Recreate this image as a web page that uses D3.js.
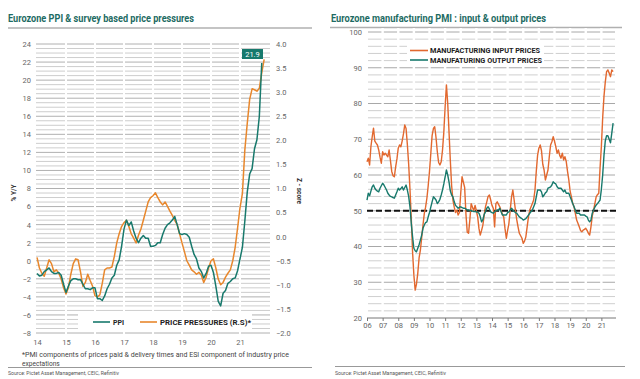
<!DOCTYPE html>
<html>
<head>
<meta charset="utf-8">
<script src="https://cdn.jsdelivr.net/npm/d3@7/dist/d3.min.js"></script>
<style>
    body { margin: 0; background: #fff; }
    svg { display: block; font-family: Roboto, "Liberation Sans", Arial, sans-serif; }
</style>
</head>
<body>
<svg id="chart" width="640" height="379"></svg>
<script>
// left chart: monthly from Jan 2014
var leftYears = ['14', '15', '16', '17', '18', '19', '20', '21'];
var leftTicks = [-8, -6, -4, -2, 0, 2, 4, 6, 8, 10, 12, 14, 16, 18, 20, 22, 24];
var zTicks = ['-2.0', '-1.5', '-1.0', '-0.5', '0.0', '0.5', '1.0', '1.5', '2.0', '2.5', '3.0', '3.5', '4.0'];

var ppi = [
    -1.4, -1.7, -1.6, -1.2, -1.0, -0.8, -1.2, -1.4, -1.4, -1.3, -1.6, -2.6,
    -3.5, -2.8, -2.2, -2.0, -2.0, -2.1, -2.1, -2.6, -3.1, -3.1, -3.2, -3.0,
    -3.0, -4.2, -4.2, -4.4, -3.9, -3.1, -2.6, -1.9, -1.6, -0.5, 0.1, 1.6,
    3.5, 4.5, 3.9, 4.3, 3.3, 2.5, 2.0, 2.5, 2.8, 2.5, 2.5, 1.6,
    1.6, 1.7, 2.0, 2.0, 2.9, 3.6, 4.0, 4.2, 4.5, 4.9, 4.0, 3.0,
    2.9, 3.0, 2.9, 2.6, 1.6, 0.7, 0.2, -0.8, -1.2, -1.9, -1.4, -0.6,
    -0.5, -1.3, -2.8, -4.5, -5.0, -3.6, -3.3, -2.5, -2.3, -2.0, -1.9, -1.1,
    0.2, 1.5, 4.4, 7.6, 9.6, 10.2, 12.4, 13.4, 16.0, 21.9
];

// z-score, right scale
var pricePressures = [
    -0.43, -0.65, -0.76, -0.82, -0.65, -0.48, -0.56, -0.73, -0.69, -0.76, -0.88, -1.06,
    -1.19, -1.06, -0.78, -0.56, -0.46, -0.48, -0.73, -1.03, -0.95, -0.78, -0.91, -1.03,
    -1.23, -1.25, -1.21, -0.97, -0.69, -0.65, -0.65, -0.63, -0.41, -0.13, 0.06, 0.21,
    0.29, 0.34, 0.21, 0.06, -0.03, -0.13, 0.03, 0.16, 0.34, 0.53, 0.72, 0.81,
    0.85, 0.91, 0.81, 0.72, 0.66, 0.72, 0.63, 0.53, 0.44, 0.34, 0.25, 0.06,
    -0.13, -0.31, -0.50, -0.59, -0.69, -0.73, -0.78, -0.74, -0.80, -0.95, -0.84, -0.65,
    -0.50, -0.46, -0.65, -0.88, -1.00, -0.95, -0.84, -0.76, -0.69, -0.50, -0.22, 0.18,
    0.60, 0.90, 1.80, 2.35, 2.85, 3.07, 3.05, 3.02, 3.08, 3.40, 3.68
];

// right chart: monthly from Jan 2006
var rightYears = ['06', '07', '08', '09', '10', '11', '12', '13', '14', '15', '16', '17', '18', '19', '20', '21'];
var pmiTicks = [20, 30, 40, 50, 60, 70, 80, 90, 100];

var inputPrices = [
    63.7, 64.7, 62.8, 67.9, 70.7, 73.1, 69.5, 68.9, 68.4, 67.0, 65.0, 63.3,
    66.5, 65.6, 66.1, 65.6, 65.1, 67.0, 64.0, 61.0, 59.8, 59.5, 62.3, 64.5,
    67.5, 68.4, 67.9, 69.5, 71.5, 74.0, 73.0, 68.5, 63.0, 56.0, 48.0, 38.5,
    32.0, 27.8, 29.5, 32.5, 36.8, 39.0, 42.5, 46.0, 49.2, 51.0, 53.5, 57.0,
    61.0, 66.0, 71.0, 73.0, 73.5, 70.5, 66.5, 63.5, 62.8, 63.7, 67.0, 72.0,
    79.0, 85.2, 80.0, 72.0, 64.0, 57.0, 53.0, 51.0, 49.5, 50.2, 48.8, 49.5,
    55.0, 59.5, 58.0, 56.5, 49.0, 44.0, 43.7, 47.5, 52.0, 51.0, 50.0, 51.5,
    50.0, 48.3, 45.0, 43.2, 44.5, 46.0, 48.8, 51.1, 52.5, 54.0, 54.4, 53.0,
    51.5, 50.7, 45.5, 52.0, 52.5, 51.8, 51.1, 50.0, 49.0, 48.3, 45.0, 42.3,
    44.5, 46.5, 50.2, 53.9, 55.8, 53.0, 50.2, 47.5, 45.5, 43.7, 43.0, 42.3,
    40.9, 41.5, 42.7, 45.5, 48.3, 50.2, 51.1, 52.0, 53.0, 55.8, 61.0, 65.5,
    67.5, 68.4, 66.8, 63.0, 61.4, 58.6, 60.0, 61.4, 65.1, 68.4, 69.3, 70.7,
    69.5, 67.9, 66.1, 67.0, 65.5, 64.7, 66.1, 64.2, 65.1, 63.8, 61.0, 58.6,
    55.5, 53.9, 52.0, 51.1, 49.3, 47.4, 46.5, 45.5, 44.5, 44.1, 44.6, 44.8,
    45.1, 44.5, 43.7, 43.2, 45.5, 48.5, 50.2, 52.0, 53.9, 54.5, 54.9, 62.0,
    68.0, 76.0, 82.0, 86.0, 88.9, 89.4, 88.5, 87.5, 89.4, 88.9
];

var outputPrices = [
    53.0, 54.9, 54.2, 55.5, 56.7, 57.2, 56.3, 55.8, 55.5, 55.3, 56.3, 57.0,
    57.7, 57.2, 56.5, 55.8, 54.9, 54.4, 54.0, 53.9, 53.7, 53.5, 54.4, 55.3,
    56.3, 55.8, 56.2, 56.7, 55.8, 56.5, 57.2, 55.8, 54.0, 51.1, 46.5, 42.7,
    39.5, 38.8, 38.5, 39.5, 40.5, 41.8, 43.2, 45.1, 46.0, 46.7, 46.9, 48.3,
    49.5, 51.0, 52.5, 53.9, 53.5, 53.0, 52.0, 52.5, 53.2, 54.4, 55.8, 57.5,
    59.5, 61.4, 60.0, 58.0, 55.5, 54.4, 53.9, 52.5, 51.5, 51.1, 50.7, 51.0,
    51.1, 50.9, 50.7, 50.7, 50.5, 50.2, 50.2, 50.1, 50.0, 49.9, 49.8, 49.8,
    49.7, 49.6, 49.3, 48.3, 46.9, 47.5, 49.0, 49.7, 50.7, 51.1, 50.5, 49.7,
    49.5, 49.3, 49.7, 50.0, 50.2, 50.2, 50.7, 49.7, 48.8, 48.8, 48.8, 48.8,
    49.5, 49.7, 50.2, 50.7, 50.2, 49.8, 49.5, 49.3, 48.8, 48.3, 48.0, 47.8,
    47.4, 47.6, 47.8, 48.3, 48.8, 49.3, 49.8, 50.2, 51.1, 52.0, 53.9, 55.8,
    55.8, 55.8, 55.3, 53.9, 54.4, 55.0, 55.3, 56.3, 56.5, 56.7, 57.2, 58.1,
    57.7, 57.5, 56.7, 56.3, 56.3, 56.3, 55.8, 55.3, 55.8, 54.9, 54.9, 54.9,
    53.9, 53.0, 52.0, 51.1, 50.2, 49.3, 49.3, 49.3, 48.8, 48.8, 48.8, 48.8,
    48.5, 48.3, 47.4, 46.9, 47.4, 49.3, 50.2, 51.0, 51.6, 52.0, 52.5, 53.0,
    56.0, 60.0, 65.5, 69.5, 71.0, 71.0, 70.0, 69.0, 71.7, 74.5
];

var TEAL = '#17796c';
var ORANGE_L = '#e8872c';
var ORANGE_R = '#e2682f';
var TITLE = '#1d6b63';

var svg = d3.select('#chart');

function monthX(start) {
    return function(d, i) { return start + i / 12; };
}

// ---------- left chart ----------
(function() {
    var x = d3.scaleLinear().domain([2014, 2022]).range([37, 269]);
    var y = d3.scaleLinear().domain([-8, 24]).range([333, 44]);
    var yz = d3.scaleLinear().domain([-2, 4]).range([333, 44]);
    var g = svg.append('g');

    g.append('text')
        .attr('x', 8).attr('y', 22)
        .attr('font-size', 10).attr('font-weight', 'bold')
        .attr('fill', TITLE)
        .attr('textLength', 186).attr('lengthAdjust', 'spacingAndGlyphs')
        .text('Eurozone PPI & survey based price pressures');

    g.append('line')
        .attr('x1', 8).attr('x2', 312).attr('y1', 28).attr('y2', 28)
        .attr('stroke', '#b0b0b0').attr('stroke-width', 1.5);

    // gridlines every 0.5, darker every 2
    var grid = d3.range(-8, 24.01, 0.5);
    g.append('g').selectAll('line')
        .data(grid)
        .join('line')
        .attr('x1', 36).attr('x2', 270)
        .attr('y1', function(d) { return y(d); })
        .attr('y2', function(d) { return y(d); })
        .attr('stroke', function(d) { return d % 2 === 0 ? '#b0b0b0' : '#cdcdcd'; })
        .attr('stroke-width', 1);

    g.append('g').selectAll('rect')
        .data(d3.range(2015, 2022))
        .join('rect')
        .attr('x', function(d) { return x(d) - 1; })
        .attr('y', 40).attr('width', 2).attr('height', 296)
        .attr('fill', '#fff');

    g.append('g')
        .attr('transform', 'translate(31,0)')
        .call(d3.axisLeft(y).tickValues(leftTicks).tickSize(0).tickPadding(0))
        .call(function(s) { s.select('.domain').remove(); })
        .selectAll('text')
        .attr('font-size', 7.5).attr('fill', '#666')
        .attr('font-family', 'Roboto, "Liberation Sans", Arial, sans-serif');

    g.append('g')
        .attr('transform', 'translate(276,0)')
        .call(d3.axisRight(yz).tickValues(zTicks.map(Number)).tickFormat(d3.format('.1f')).tickSize(0).tickPadding(0))
        .call(function(s) { s.select('.domain').remove(); })
        .selectAll('text')
        .attr('font-size', 7.5).attr('fill', '#666')
        .attr('font-family', 'Roboto, "Liberation Sans", Arial, sans-serif');

    g.append('g')
        .attr('transform', 'translate(0,340)')
        .call(d3.axisBottom(x).tickValues(d3.range(2014, 2022)).tickFormat(function(d, i) { return leftYears[i]; }).tickSize(0).tickPadding(0))
        .call(function(s) { s.select('.domain').remove(); })
        .selectAll('text')
        .attr('font-size', 7.5).attr('fill', '#666')
        .attr('font-family', 'Roboto, "Liberation Sans", Arial, sans-serif');

    g.append('text')
        .attr('transform', 'translate(16,193) rotate(-90)')
        .attr('text-anchor', 'middle')
        .attr('font-size', 6.5).attr('font-weight', 'bold').attr('fill', '#333')
        .text('% Y/Y');

    g.append('text')
        .attr('transform', 'translate(297,191) rotate(90)')
        .attr('text-anchor', 'middle')
        .attr('font-size', 6.5).attr('font-weight', 'bold').attr('fill', '#333')
        .text('Z - score');

    // legend box
    g.append('rect')
        .attr('x', 78).attr('y', 314).attr('width', 174).attr('height', 16)
        .attr('fill', '#fff');
    g.append('line')
        .attr('x1', 93).attr('x2', 110).attr('y1', 322).attr('y2', 322)
        .attr('stroke', TEAL).attr('stroke-width', 1.6);
    g.append('text')
        .attr('x', 113).attr('y', 324.5)
        .attr('font-size', 7).attr('font-weight', 'bold').attr('fill', '#222')
        .text('PPI');
    g.append('line')
        .attr('x1', 140).attr('x2', 157).attr('y1', 322).attr('y2', 322)
        .attr('stroke', ORANGE_L).attr('stroke-width', 1.6);
    g.append('text')
        .attr('x', 160).attr('y', 324.5)
        .attr('font-size', 7).attr('font-weight', 'bold').attr('fill', '#222')
        .attr('textLength', 91).attr('lengthAdjust', 'spacingAndGlyphs')
        .text('PRICE PRESSURES (R.S)*');

    var ppX = monthX(2014);
    g.append('path')
        .datum(pricePressures)
        .attr('fill', 'none').attr('stroke', ORANGE_L).attr('stroke-width', 1.5)
        .attr('stroke-linejoin', 'round')
        .attr('d', d3.line().x(function(d, i) { return x(ppX(d, i)); }).y(function(d) { return yz(d); }));

    g.append('path')
        .datum(ppi)
        .attr('fill', 'none').attr('stroke', TEAL).attr('stroke-width', 1.5)
        .attr('stroke-linejoin', 'round')
        .attr('d', d3.line().x(function(d, i) { return x(ppX(d, i)); }).y(function(d) { return y(d); }));

    // last value label
    var last = ppi[ppi.length - 1];
    g.append('rect')
        .attr('x', 242).attr('y', 49).attr('width', 21).attr('height', 10)
        .attr('fill', TEAL);
    g.append('text')
        .attr('x', 252.5).attr('y', 56.8)
        .attr('text-anchor', 'middle')
        .attr('font-size', 7.5).attr('fill', '#fff')
        .text(d3.format('.1f')(last));

    g.append('text')
        .attr('x', 22).attr('y', 357)
        .attr('font-size', 6.6).attr('fill', '#444')
        .attr('textLength', 267).attr('lengthAdjust', 'spacingAndGlyphs')
        .text('*PMI components of prices paid & delivery times and ESI component of industry price');
    g.append('text')
        .attr('x', 22).attr('y', 365.5)
        .attr('font-size', 6.6).attr('fill', '#444')
        .text('expectations');

    g.append('line')
        .attr('x1', 8).attr('x2', 312).attr('y1', 367.5).attr('y2', 367.5)
        .attr('stroke', '#999').attr('stroke-width', 1);
    g.append('text')
        .attr('x', 8).attr('y', 375)
        .attr('font-size', 4.6).attr('fill', '#555')
        .attr('textLength', 111).attr('lengthAdjust', 'spacingAndGlyphs')
        .text('Source: Pictet Asset Management, CEIC, Refinitiv');
})();

// ---------- right chart ----------
(function() {
    var x = d3.scaleLinear().domain([2006, 2022]).range([367, 617]);
    var y = d3.scaleLinear().domain([20, 100]).range([318, 32]);
    var g = svg.append('g');

    g.append('text')
        .attr('x', 331).attr('y', 22)
        .attr('font-size', 10).attr('font-weight', 'bold')
        .attr('fill', TITLE)
        .attr('textLength', 215).attr('lengthAdjust', 'spacingAndGlyphs')
        .text('Eurozone manufacturing PMI : input & output prices');

    g.append('line')
        .attr('x1', 330).attr('x2', 622).attr('y1', 27.5).attr('y2', 27.5)
        .attr('stroke', '#b0b0b0').attr('stroke-width', 1.5);

    var grid = d3.range(22, 100.01, 2);
    g.append('g').selectAll('line')
        .data(grid)
        .join('line')
        .attr('x1', 368).attr('x2', 615)
        .attr('y1', function(d) { return y(d); })
        .attr('y2', function(d) { return y(d); })
        .attr('stroke', function(d) { return d % 10 === 0 ? '#a8a8a8' : '#cfcfcf'; })
        .attr('stroke-width', 1);

    g.append('g').selectAll('rect')
        .data(d3.range(2007, 2022))
        .join('rect')
        .attr('x', function(d) { return x(d) - 1.2; })
        .attr('y', 28).attr('width', 2.4).attr('height', 288)
        .attr('fill', '#fff');

    g.append('g')
        .attr('transform', 'translate(362,0)')
        .call(d3.axisLeft(y).tickValues(pmiTicks).tickSize(0).tickPadding(0))
        .call(function(s) { s.select('.domain').remove(); })
        .selectAll('text')
        .attr('font-size', 7.5).attr('fill', '#666')
        .attr('font-family', 'Roboto, "Liberation Sans", Arial, sans-serif');

    var xAxis = g.append('g')
        .attr('transform', 'translate(0,318)')
        .call(d3.axisBottom(x).tickValues(d3.range(2006, 2022)).tickFormat(function(d, i) { return rightYears[i]; }).tickSize(3).tickSizeOuter(0).tickPadding(2));
    xAxis.select('.domain')
        .attr('d', 'M367,0H616')
        .attr('stroke', '#777');
    xAxis.selectAll('.tick line').attr('stroke', '#777');
    xAxis.selectAll('text')
        .attr('font-size', 7.5).attr('fill', '#666')
        .attr('font-family', 'Roboto, "Liberation Sans", Arial, sans-serif');

    // 50 line
    g.append('line')
        .attr('x1', x(2006)).attr('x2', 616)
        .attr('y1', y(50)).attr('y2', y(50))
        .attr('stroke', '#111').attr('stroke-width', 2)
        .attr('stroke-dasharray', '6,3');

    var mx = monthX(2006);
    g.append('path')
        .datum(inputPrices)
        .attr('fill', 'none').attr('stroke', ORANGE_R).attr('stroke-width', 1.4)
        .attr('stroke-linejoin', 'round')
        .attr('d', d3.line().x(function(d, i) { return x(mx(d, i)); }).y(function(d) { return y(d); }));

    g.append('path')
        .datum(outputPrices)
        .attr('fill', 'none').attr('stroke', TEAL).attr('stroke-width', 1.4)
        .attr('stroke-linejoin', 'round')
        .attr('d', d3.line().x(function(d, i) { return x(mx(d, i)); }).y(function(d) { return y(d); }));

    // legend
    g.append('rect')
        .attr('x', 407).attr('y', 45).attr('width', 137).attr('height', 19)
        .attr('fill', '#fff');
    g.append('line')
        .attr('x1', 410).attr('x2', 428).attr('y1', 50.5).attr('y2', 50.5)
        .attr('stroke', ORANGE_R).attr('stroke-width', 1.6);
    g.append('text')
        .attr('x', 430).attr('y', 53)
        .attr('font-size', 6.8).attr('font-weight', 'bold').attr('fill', '#222')
        .attr('textLength', 110).attr('lengthAdjust', 'spacingAndGlyphs')
        .text('MANUFACTURING INPUT PRICES');
    g.append('line')
        .attr('x1', 410).attr('x2', 428).attr('y1', 60).attr('y2', 60)
        .attr('stroke', TEAL).attr('stroke-width', 1.6);
    g.append('text')
        .attr('x', 430).attr('y', 62.5)
        .attr('font-size', 6.8).attr('font-weight', 'bold').attr('fill', '#222')
        .attr('textLength', 112).attr('lengthAdjust', 'spacingAndGlyphs')
        .text('MANUFATURING OUTPUT PRICES');

    g.append('line')
        .attr('x1', 335).attr('x2', 625).attr('y1', 366.5).attr('y2', 366.5)
        .attr('stroke', '#999').attr('stroke-width', 1);
    g.append('text')
        .attr('x', 335).attr('y', 375)
        .attr('font-size', 4.6).attr('fill', '#555')
        .attr('textLength', 111).attr('lengthAdjust', 'spacingAndGlyphs')
        .text('Source: Pictet Asset Management, CEIC, Refinitiv');
})();
</script>
</body>
</html>
